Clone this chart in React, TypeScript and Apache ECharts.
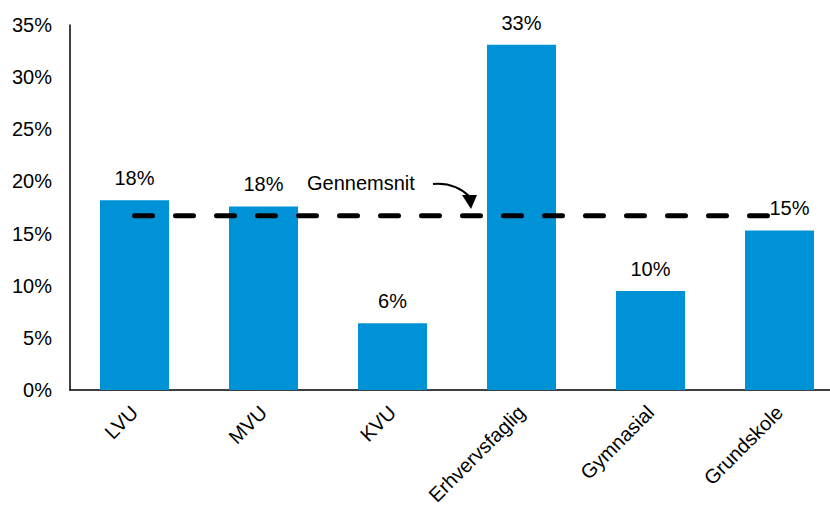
import React, { useEffect, useRef } from "react";
import * as echarts from "echarts";

const categories = ["LVU", "MVU", "KVU", "Erhvervsfaglig", "Gymnasial", "Grundskole"];
const shares = [18.2, 17.6, 6.4, 33.1, 9.5, 15.3];
const averageValue = 16.7;
const averageLine = categories.map(() => averageValue);
const averageLabel = "Gennemsnit";

export default function App() {
  const ref = useRef<HTMLDivElement>(null);
  useEffect(() => {
    if (!ref.current) return;
    const chart = echarts.init(ref.current, undefined, { renderer: "svg" });
    const font = "Liberation Sans, Arial, sans-serif";
    const barData = shares.map((v, i) =>
      i === shares.length - 1 ? { value: v, label: { offset: [10, 0] } } : v
    );
    chart.setOption({
      animation: false,
      grid: { left: 70, right: -14, top: 25, bottom: 118, containLabel: false, outerBoundsMode: "none" },
      xAxis: {
        type: "category",
        data: categories,
        axisLine: { lineStyle: { color: "#000", width: 1.5 } },
        axisTick: { show: false },
        axisLabel: {
          rotate: 45,
          margin: 19,
          color: "#000",
          fontSize: 20,
          fontFamily: font,
          interval: 0,
        },
      },
      yAxis: {
        type: "value",
        min: 0,
        max: 35,
        interval: 5,
        splitLine: { show: false },
        axisLine: { show: true, lineStyle: { color: "#000", width: 1.5 } },
        axisTick: { show: false },
        axisLabel: {
          margin: 18,
          color: "#000",
          fontSize: 20,
          fontFamily: font,
          formatter: (v: number) => v + "%",
        },
      },
      series: [
        {
          type: "bar",
          data: barData,
          barWidth: 69,
          itemStyle: { color: "#0092D6" },
          label: {
            show: true,
            position: "top",
            distance: 12,
            color: "#000",
            fontSize: 20,
            fontFamily: font,
            formatter: (p: any) => Math.round(p.value) + "%",
          },
          z: 2,
        },
        {
          type: "line",
          data: averageLine,
          symbol: "none",
          lineStyle: { color: "#000", width: 5, type: [18, 23], cap: "round" },
          z: 3,
        },
      ],
      graphic: [
        {
          type: "text",
          left: 307,
          top: 173,
          style: { text: averageLabel, fontSize: 20, fontFamily: font, fill: "#000" },
        },
        {
          type: "bezierCurve",
          shape: { x1: 433, y1: 184, x2: 470, y2: 197, cpx1: 455, cpy1: 182 },
          style: { stroke: "#000", lineWidth: 2, fill: "none" },
        },
        {
          type: "polygon",
          shape: { points: [[462, 195], [477, 195], [471, 209]] },
          style: { fill: "#000" },
        },
      ],
    });
    return () => chart.dispose();
  }, []);
  return (
    <div
      ref={ref}
      style={{ position: "absolute", left: 0, top: 0, width: 830, height: 508, background: "#fff" }}
    />
  );
}
